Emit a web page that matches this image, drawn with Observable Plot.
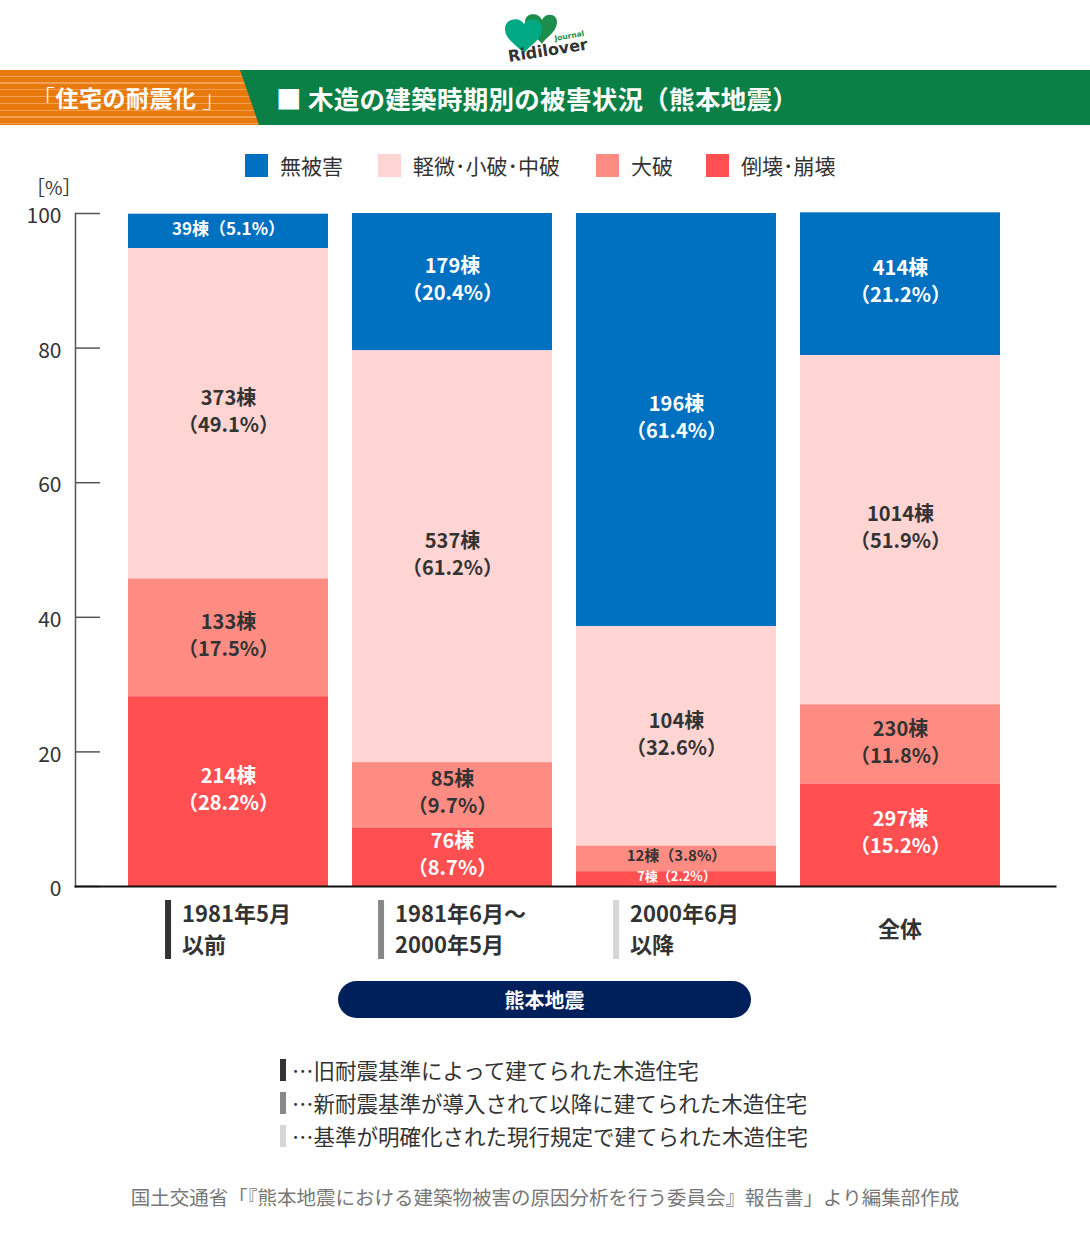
<!DOCTYPE html>
<html><head><meta charset="utf-8">
<script src="https://cdn.jsdelivr.net/npm/d3@7"></script>
<script src="https://cdn.jsdelivr.net/npm/@observablehq/plot@0.6"></script>
<style>
body{margin:0;background:#fff;font-family:"Noto Sans CJK JP","Noto Sans",sans-serif;color:#333;}
#page{position:relative;width:1090px;height:1237px;overflow:hidden;background:#fff;}
.abs{position:absolute;}
#band-green{left:0;top:70px;width:1090px;height:55px;background:#0a7f46;}
#band-orange{left:0;top:70px;width:260px;height:55px;
  background:repeating-linear-gradient(to bottom,#e8790b 0px,#e8790b 5.5px,#f2a055 5.5px,#f2a055 6.8px);
  clip-path:polygon(0 0,240px 0,259px 100%,0 100%);}
#sub{left:32px;top:70px;height:55px;line-height:55px;color:#fff;font-weight:bold;font-size:23px;letter-spacing:0.5px;}
#sub .br{font-weight:300;}
#title{left:276px;top:70px;height:55px;line-height:55px;color:#fff;font-weight:bold;font-size:25.5px;letter-spacing:0.3px;}
#legend{left:0;top:153px;width:1090px;height:26px;}
.lg{position:absolute;top:0;display:flex;align-items:center;font-size:21px;color:#333;height:24px;}
.lg i{display:inline-block;width:23px;height:23px;margin-right:12px;}
#ylab{left:26px;top:177px;font-size:19px;line-height:19px;color:#333;}
#chart{left:0;top:180px;}
.xl{position:absolute;top:897px;transform:translateX(-50%);display:flex;align-items:stretch;}
.xl .mk{width:6px;margin-right:11px;margin-top:3px;}
.xl .tx{font-weight:bold;font-size:22px;line-height:31px;color:#333;white-space:pre;}
#pill{left:338px;top:981px;width:413px;height:37px;border-radius:19px;background:#00205b;color:#fff;font-weight:bold;font-size:20px;line-height:37px;text-align:center;}
#notes{left:280px;top:1053px;}
.nt{display:flex;align-items:center;height:33px;font-size:21.5px;color:#333;}
.nt i{display:inline-block;width:6px;height:22px;margin-right:6px;}
#src{left:0;top:1182px;width:1090px;text-align:center;font-size:19.5px;color:#777;}
</style></head><body><div id="page">
  <svg class="abs" style="left:498px;top:6px" width="110" height="62" viewBox="0 0 110 62">
    <path d="M27 16 C27 6 41 6 44 14 C47 6 60 7 59 17 C58 27 47 32 44 38 C40 32 28 26 27 16Z" fill="#1d8d4c"/>
    <path d="M7 24 C6 12 22 10 26 18 C30 10 45 12 44 24 C43 35 30 40 26 48 C21 40 8 35 7 24Z" fill="#00a884"/>
    <text x="11" y="56" font-size="16" font-weight="bold" font-family="DejaVu Sans" fill="#333" transform="rotate(-9 11 56)">Ridilover</text>
    <text x="57" y="35" font-size="7.5" font-weight="bold" font-family="DejaVu Sans" fill="#1d8d4c" transform="rotate(-10 57 35)">Journal</text>
  </svg>
  <div id="band-green" class="abs"></div>
  <div id="band-orange" class="abs"></div>
  <div id="sub" class="abs"><span class="br">「</span>住宅の耐震化 <span class="br">」</span></div>
  <div id="title" class="abs">■ 木造の建築時期別の被害状況（熊本地震）</div>
  <div id="legend" class="abs"></div>
  <div id="ylab" class="abs">［%］</div>
  <div id="chart" class="abs"></div>
  <div id="xlabels"></div>
  <div id="pill" class="abs">熊本地震</div>
  <div id="notes" class="abs"></div>
  <div id="src" class="abs">国土交通省「『熊本地震における建築物被害の原因分析を行う委員会』報告書」より編集部作成</div>
</div>
<script>
// ---- data ----
const categories = ["1981年5月以前", "1981年6月〜2000年5月", "2000年6月以降", "全体"];
const categoryLabels = ["1981年5月\n以前", "1981年6月～\n2000年5月", "2000年6月\n以降", "全体"];
const categoryMarkers = ["#333333", "#888888", "#d6d6d6", null];
const series = ["無被害", "軽微･小破･中破", "大破", "倒壊･崩壊"];
const seriesColors = ["#0070c0", "#ffd5d3", "#ff8c82", "#ff4f50"];
const stackOrder = ["倒壊･崩壊", "大破", "軽微･小破･中破", "無被害"];
const countsNoDamage = [39, 179, 196, 414];
const countsMinor = [373, 537, 104, 1014];
const countsMajor = [133, 85, 12, 230];
const countsCollapse = [214, 76, 7, 297];
const pctNoDamage = [5.1, 20.4, 61.4, 21.2];
const pctMinor = [49.1, 61.2, 32.6, 51.9];
const pctMajor = [17.5, 9.7, 3.8, 11.8];
const pctCollapse = [28.2, 8.7, 2.2, 15.2];
const yTicks = [0, 20, 40, 60, 80, 100];
const notes = ["…旧耐震基準によって建てられた木造住宅", "…新耐震基準が導入されて以降に建てられた木造住宅", "…基準が明確化された現行規定で建てられた木造住宅"];

// ---- build table ----
const countsBySeries = [countsNoDamage, countsMinor, countsMajor, countsCollapse];
const pctBySeries = [pctNoDamage, pctMinor, pctMajor, pctCollapse];
const rows = [];
series.forEach((s, si) => categories.forEach((c, ci) => {
  rows.push({cat: c, series: s, si, count: countsBySeries[si][ci], pct: pctBySeries[si][ci]});
}));
const label = d => d.pct >= 6 ? `${d.count}棟\n（${d.pct.toFixed(1)}%）` : `${d.count}棟（${d.pct.toFixed(1)}%）`;
const fsize = d => d.pct < 2.5 ? 13 : d.pct < 4 ? 15 : d.pct < 6 ? 17 : 20;
const isWhite = d => d.si === 0 || d.si === 3;

// ---- legend ----
const legendPos = [245, 378, 596, 706];
const lg = document.getElementById("legend");
series.forEach((s, i) => {
  const el = document.createElement("div");
  el.className = "lg"; el.style.left = legendPos[i] + "px";
  el.innerHTML = `<i style="background:${seriesColors[i]}"></i>${s}`;
  lg.appendChild(el);
});

// ---- chart ----
const W = 1090, H = 790;
const plot = Plot.plot({
  width: W, height: H,
  marginTop: 33, marginBottom: 84, marginLeft: 75, marginRight: 35,
  style: {fontFamily: '"Noto Sans CJK JP", sans-serif', background: "transparent", overflow: "visible"},
  x: {domain: categories, range: [116, 1012], paddingInner: 24/224, paddingOuter: 12/224, axis: null},
  y: {domain: [0, 100], axis: null, label: null},
  color: {domain: series, range: seriesColors},
  marks: [
    Plot.barY(rows, {x: "cat", y: "pct", fill: "series", order: stackOrder}),
    Plot.text(rows, Plot.stackY({x: "cat", y: "pct", z: "series", order: stackOrder,
      text: d => isWhite(d) ? label(d) : null, fill: "#fff", fontWeight: "bold", fontSize: fsize, lineHeight: 1.35, dy: -4})),
    Plot.text(rows, Plot.stackY({x: "cat", y: "pct", z: "series", order: stackOrder,
      text: d => isWhite(d) ? null : label(d), fill: "#333", fontWeight: "bold", fontSize: fsize, lineHeight: 1.35, dy: -4})),
    Plot.axisY({ticks: yTicks, anchor: "left", label: null, tickSize: -25, tickFormat: () => "", stroke: "#555", strokeWidth: 1.5}),
    Plot.axisY({ticks: yTicks, anchor: "left", label: null, tickSize: 0, tickPadding: 14, fontSize: 21, fill: "#333", dy: 3, tickFormat: d => d}),
    Plot.frame({anchor: "left", stroke: "#555", strokeWidth: 1.5}),
    Plot.frame({anchor: "bottom", stroke: "#111", strokeWidth: 2})
  ]
});
document.getElementById("chart").appendChild(plot);

// ---- x labels positioned by the x scale ----
const xs = plot.scale("x");
const xl = document.getElementById("xlabels");
categories.forEach((c, i) => {
  const cx = xs.apply(c) + xs.bandwidth / 2;
  const el = document.createElement("div");
  el.className = "xl abs";
  el.style.left = cx + "px";
  if (categoryMarkers[i]) {
    el.innerHTML = `<div class="mk" style="background:${categoryMarkers[i]}"></div><div class="tx">${categoryLabels[i]}</div>`;
  } else {
    el.style.top = "912px";
    el.innerHTML = `<div class="tx">${categoryLabels[i]}</div>`;
  }
  xl.appendChild(el);
});

// ---- notes ----
const nEl = document.getElementById("notes");
notes.forEach((n, i) => {
  const el = document.createElement("div");
  el.className = "nt";
  el.innerHTML = `<i style="background:${categoryMarkers[i]}"></i>${n}`;
  nEl.appendChild(el);
});
</script>
</body></html>
